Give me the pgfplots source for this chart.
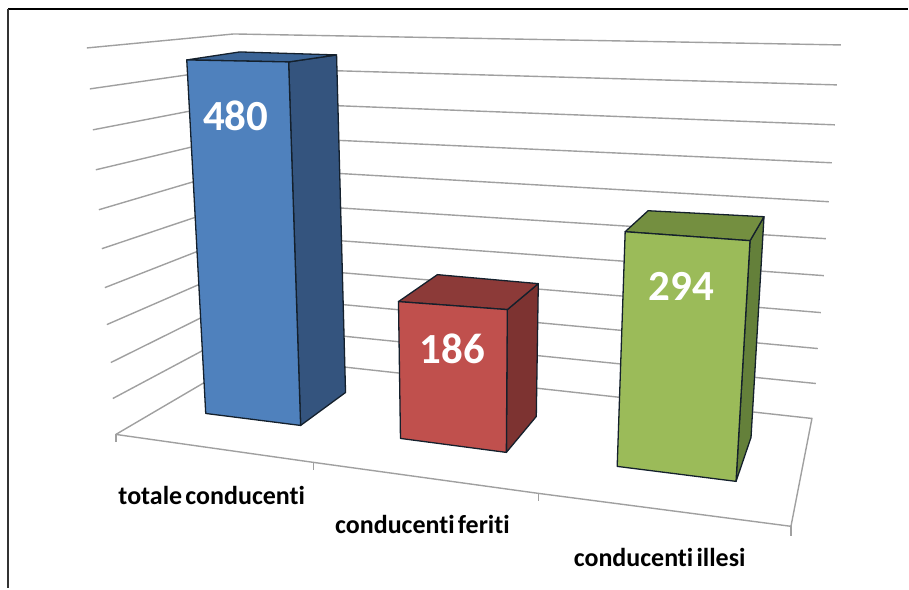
\documentclass[border=0pt]{standalone}
\usepackage{pgfplots}
\pgfplotsset{compat=1.18}
\usepackage{fontspec}
\setmainfont{Carlito}[Ligatures=NoCommon, WordSpace=0.55]
\definecolor{grid}{HTML}{A0A0A0}
\definecolor{edge}{HTML}{14202C}
\definecolor{bluef}{HTML}{4F81BD}
\definecolor{blues}{HTML}{34547E}
\definecolor{bluet}{HTML}{3B6496}
\definecolor{redf}{HTML}{C0504D}
\definecolor{reds}{HTML}{7D3331}
\definecolor{redt}{HTML}{8C3A38}
\definecolor{greenf}{HTML}{9BBB59}
\definecolor{greens}{HTML}{64803A}
\definecolor{greent}{HTML}{748F40}
\tikzset{
    val/.style={font=\fontsize{43}{43}\selectfont\bfseries, text=white, inner sep=0pt},
    cat/.style={font=\fontsize{26}{28}\selectfont\bfseries, text=black, inner sep=0pt},
}
\begin{document}
\begin{tikzpicture}
\begin{axis}[
    scale only axis,
    width=909pt, height=589pt,
    xmin=0, xmax=909, ymin=0, ymax=589,
    y dir=reverse,
    ticks=none,
    axis line style={draw=none},
    clip=false,
    gl/.style={draw=grid, line width=1.4pt, no markers, forget plot},
    fr/.style={no markers, forget plot},
    face/.style={draw=edge, line width=1.3pt, line join=round, no markers, forget plot, fill=#1},
]
% frame
\addplot[fr, draw=black, line width=2.4pt] coordinates {(8,9) (909,9)};
\addplot[fr, draw=black!80, line width=1.6pt] coordinates {(8,9) (8,589)};
% walls
\addplot[gl] coordinates {(87,48) (234,34) (842,45)};
\addplot[gl] coordinates {(90,89) (236,68) (838,85)};
\addplot[gl] coordinates {(93,130) (238,102) (836,125)};
\addplot[gl] coordinates {(96,170) (239,136) (833,163)};
\addplot[gl] coordinates {(99,210) (241,168) (830,202)};
\addplot[gl] coordinates {(102,249) (242,202) (827,239)};
\addplot[gl] coordinates {(105,288) (243,234) (825,276)};
\addplot[gl] coordinates {(107,325) (245,265) (822,313)};
\addplot[gl] coordinates {(111,363) (246,296) (819,349)};
\addplot[gl] coordinates {(113,399) (248,327) (817,384)};
% floor
\addplot[gl] coordinates {(116,435) (249,357) (813,419) (792,527) (539,494) (314,463) (116,435)};
\addplot[gl] coordinates {(116,435) (116,443)};
\addplot[gl] coordinates {(314,463) (314,471)};
\addplot[gl] coordinates {(539,494) (539,502)};
\addplot[gl] coordinates {(792,527) (792,537)};
% totale conducenti, 480
\addplot[face=blues] coordinates {(289,62) (337,55) (346,393) (301,426)} -- cycle;
\addplot[face=bluet] coordinates {(187,60) (240,52) (337,55) (289,62)} -- cycle;
\addplot[face=bluef] coordinates {(187,60) (289,62) (301,426) (206,414)} -- cycle;
% conducenti feriti, 186
\addplot[face=reds] coordinates {(508,310) (539,284) (537,417) (507,453)} -- cycle;
\addplot[face=redt] coordinates {(399,302) (438,275) (539,284) (508,310)} -- cycle;
\addplot[face=redf] coordinates {(399,302) (508,310) (507,453) (401,439)} -- cycle;
% conducenti illesi, 294
\addplot[face=greens] coordinates {(751,241) (765,217) (752,438) (737,482)} -- cycle;
\addplot[face=greent] coordinates {(626,232) (649,211) (765,217) (751,241)} -- cycle;
\addplot[face=greenf] coordinates {(626,232) (751,241) (737,482) (618,467)} -- cycle;
\node[val] at (axis cs:236,116) {480};
\node[val] at (axis cs:453,349) {186};
\node[val] at (axis cs:682,287) {294};
\node[cat] at (axis cs:212,496) {totale conducenti};
\node[cat] at (axis cs:423,525) {conducenti feriti};
\node[cat] at (axis cs:660.5,558) {conducenti illesi};
\end{axis}
\end{tikzpicture}
\end{document}
